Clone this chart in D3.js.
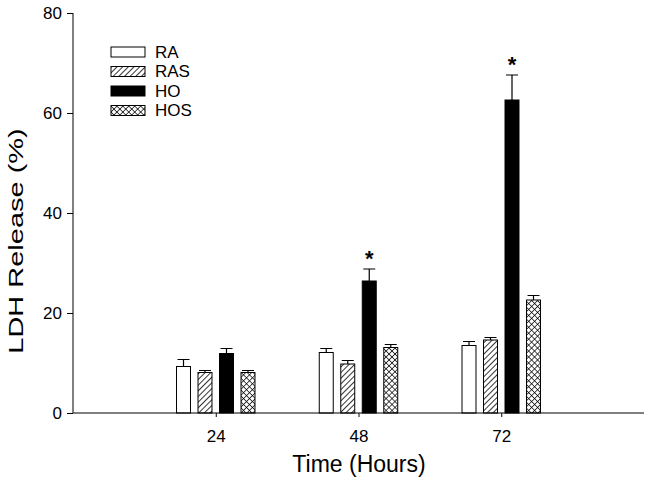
<!DOCTYPE html>
<html>
<head>
<script src="https://cdn.jsdelivr.net/npm/d3@7"></script>
<style>
  body { margin: 0; background: #fff; }
  text { font-family: "Liberation Sans", Arial, sans-serif; }
</style>
</head>
<body>
<svg id="chart" width="649" height="482"></svg>
<script>
  // data
  const hours = [24, 48, 72];
  const groups = ["RA", "RAS", "HO", "HOS"];
  const means = {
    RA:  [9.3, 12.1, 13.5],
    RAS: [8.1, 9.8, 14.6],
    HO:  [11.9, 26.4, 62.6],
    HOS: [8.1, 13.1, 22.6]
  };
  const errs = {
    RA:  [1.4, 0.8, 0.8],
    RAS: [0.4, 0.7, 0.5],
    HO:  [1.0, 2.4, 5.0],
    HOS: [0.4, 0.6, 0.9]
  };
  const stars = [{ hour: 48, group: "HO" }, { hour: 72, group: "HO" }];
  const yTicks = [0, 20, 40, 60, 80];

  const svg = d3.select("#chart");

  const x = d3.scaleLinear().domain([0, 96]).range([73, 644]);
  const y = d3.scaleLinear().domain([0, 80]).range([413, 13]);
  const sub = d3.scaleBand().domain(groups).range([-43, 43])
    .paddingInner(0.35).paddingOuter(0.175);

  // patterns
  const defs = svg.append("defs");
  const hatch = defs.append("pattern").attr("id", "hatch")
    .attr("patternUnits", "userSpaceOnUse").attr("width", 4).attr("height", 4)
    .attr("patternTransform", "rotate(45)");
  hatch.append("rect").attr("width", 4).attr("height", 4).attr("fill", "#fff");
  hatch.append("line").attr("x1", 0).attr("y1", 0).attr("x2", 0).attr("y2", 4)
    .attr("stroke", "#000").attr("stroke-width", 1.6);

  const cross = defs.append("pattern").attr("id", "cross")
    .attr("patternUnits", "userSpaceOnUse").attr("width", 4.2).attr("height", 4.2)
    .attr("patternTransform", "rotate(45)");
  cross.append("rect").attr("width", 4.2).attr("height", 4.2).attr("fill", "#fff");
  cross.append("line").attr("x1", 0).attr("y1", 0).attr("x2", 0).attr("y2", 4.2)
    .attr("stroke", "#000").attr("stroke-width", 1.4);
  cross.append("line").attr("x1", 0).attr("y1", 0).attr("x2", 4.2).attr("y2", 0)
    .attr("stroke", "#000").attr("stroke-width", 1.4);

  const fills = { RA: "#fff", RAS: "url(#hatch)", HO: "#000", HOS: "url(#cross)" };

  const rows = [];
  groups.forEach(g => hours.forEach((h, i) => {
    rows.push({ group: g, hour: h, mean: means[g][i], err: errs[g][i] });
  }));
  const cx = d => x(d.hour) + sub(d.group) + sub.bandwidth() / 2;

  // error bars (upper only)
  const cap = 6;
  svg.selectAll(".err").data(rows).join("path")
    .attr("class", "err")
    .attr("d", d => `M${cx(d)},${y(d.mean)}V${y(d.mean + d.err)}M${cx(d) - cap},${y(d.mean + d.err)}H${cx(d) + cap}`)
    .attr("stroke", "#000").attr("stroke-width", 1.2).attr("fill", "none");

  svg.selectAll(".bar").data(rows).join("rect")
    .attr("class", "bar")
    .attr("x", d => x(d.hour) + sub(d.group))
    .attr("width", sub.bandwidth())
    .attr("y", d => y(d.mean))
    .attr("height", d => y(0) - y(d.mean))
    .attr("fill", d => fills[d.group])
    .attr("stroke", "#000").attr("stroke-width", 1);

  // significance stars
  svg.selectAll(".star").data(stars).join("text")
    .attr("class", "star")
    .attr("x", d => x(d.hour) + sub(d.group) + sub.bandwidth() / 2)
    .attr("y", d => {
      const i = hours.indexOf(d.hour);
      return y(means[d.group][i] + errs[d.group][i]);
    })
    .attr("dy", -3)
    .attr("text-anchor", "middle")
    .attr("font-size", 22).attr("font-weight", "bold")
    .text("*");

  // axes
  const yAxis = svg.append("g").attr("transform", `translate(${x(0)},0)`)
    .call(d3.axisLeft(y).tickValues(yTicks).tickSize(6).tickPadding(5));
  const xAxis = svg.append("g").attr("transform", `translate(0,${y(0)})`)
    .call(d3.axisBottom(x).tickValues(hours).tickSize(4).tickPadding(13));
  [xAxis, yAxis].forEach(a => {
    a.select(".domain").attr("d", null);
    a.selectAll("text").attr("font-size", 17).attr("fill", "#000")
      .attr("font-family", "Liberation Sans, Arial, sans-serif");
    a.selectAll("line").attr("stroke", "#000");
  });
  svg.append("line").attr("x1", x(0)).attr("x2", x(96)).attr("y1", y(0)).attr("y2", y(0))
    .attr("stroke", "#000");
  svg.append("line").attr("x1", x(0)).attr("x2", x(0)).attr("y1", y(0)).attr("y2", y(80))
    .attr("stroke", "#000");

  svg.append("text").attr("x", 359).attr("y", 472).attr("text-anchor", "middle")
    .attr("font-size", 23).text("Time (Hours)");
  svg.append("text").attr("transform", "translate(23,241) rotate(-90) scale(1.38,1)")
    .attr("text-anchor", "middle").attr("font-size", 21).text("LDH Release (%)");

  // legend
  const legend = svg.append("g").attr("transform", "translate(111,47)");
  const item = legend.selectAll("g").data(groups).join("g")
    .attr("transform", (d, i) => `translate(0,${i * 19.5})`);
  item.append("rect").attr("width", 34).attr("height", 10)
    .attr("fill", d => fills[d]).attr("stroke", "#000");
  item.append("text").attr("x", 44).attr("y", 5).attr("dy", "0.35em")
    .attr("font-size", 17).text(d => d);
</script>
</body>
</html>
